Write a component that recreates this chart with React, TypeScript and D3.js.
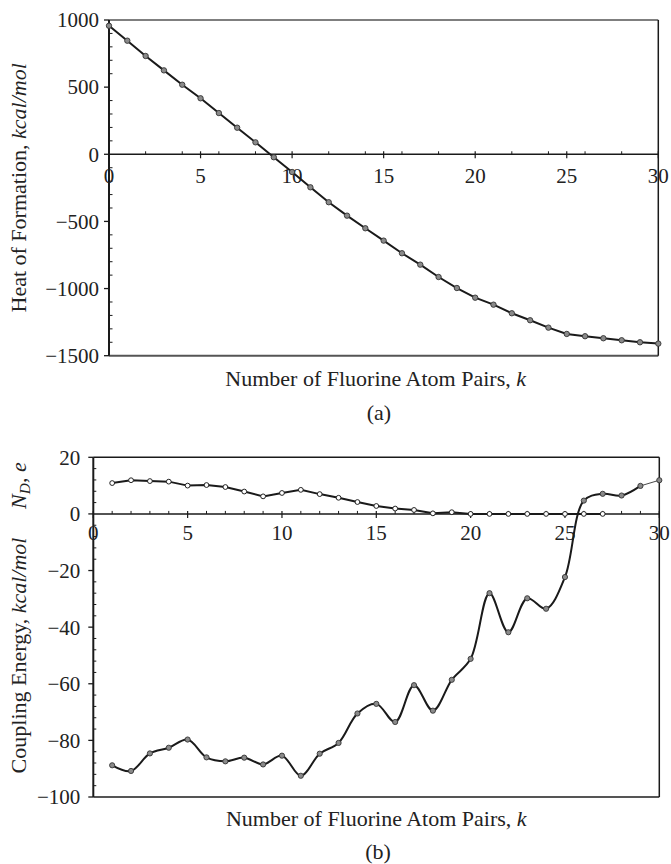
import React from "react";
import * as d3 from "d3";

const kTop = d3.range(0, 31);
const heatOfFormation = [957, 846, 732, 625, 518, 417, 307, 198, 89, -22, -132, -246, -357, -457, -551, -643, -737, -822, -914, -996, -1068, -1120, -1184, -1236, -1291, -1338, -1355, -1370, -1385, -1400, -1410];

const kCoupling = d3.range(1, 31);
const couplingEnergy = [-88.8, -90.8, -84.6, -82.6, -79.7, -86.0, -87.4, -86.1, -88.5, -85.4, -92.5, -84.7, -80.9, -70.5, -67.1, -73.5, -60.5, -69.5, -58.6, -51.2, -28.0, -41.8, -29.8, -33.5, -22.3, 4.7, 7.1, 6.5, 9.9, 11.9];

const kND = d3.range(1, 28);
const ndValues = [10.9, 11.9, 11.6, 11.4, 10.0, 10.2, 9.5, 7.9, 6.2, 7.4, 8.5, 7.0, 5.7, 4.2, 2.8, 1.9, 1.4, 0.2, 0.6, 0, 0, 0, 0, 0, 0, 0, 0];

const topYTicks = [1000, 500, 0, -500, -1000, -1500];
const xTicks = [0, 5, 10, 15, 20, 25, 30];
const bottomYTicks = [20, 0, -20, -40, -60, -80, -100];

const FONT = "'Liberation Serif', 'Times New Roman', serif";
const FS = 21;
const FT = 22;
const fmt = d3.format("d");

export default function App() {
  const x1 = d3.scaleLinear().domain([0, 30]).range([109, 658.3]);
  const y1 = d3.scaleLinear().domain([-1500, 1000]).range([355.7, 20]);
  const x2 = d3.scaleLinear().domain([0, 30]).range([93.3, 659.3]);
  const y2 = d3.scaleLinear().domain([-100, 20]).range([797, 457.3]);

  const lineTop = d3.line<number>().x((_, i) => x1(kTop[i])).y((d) => y1(d));
  const ceIdxMain = d3.range(0, 29);
  const lineCE = d3
    .line<number>()
    .x((i) => x2(kCoupling[i]))
    .y((i) => y2(couplingEnergy[i]))
    .curve(d3.curveCatmullRom.alpha(0.5));
  const lineCETail = d3
    .line<number>()
    .x((i) => x2(kCoupling[i]))
    .y((i) => y2(couplingEnergy[i]));
  const lineND = d3.line<number>().x((_, i) => x2(kND[i])).y((d) => y2(d));

  const topMinorY = d3.range(-1500, 1001, 100).filter((v) => v % 500 !== 0);
  const topMinorX = d3.range(0, 31, 2).filter((v) => v % 5 !== 0);
  const botMinorY = d3.range(-100, 21, 4).filter((v) => v % 20 !== 0);
  const botMinorX = d3.range(0, 31, 1).filter((v) => v % 5 !== 0);

  const frame = "#555";
  const dark = "#1a1a1a";

  return (
    <svg width={671} height={864} style={{ position: "absolute", left: 0, top: 0, background: "#fff" }} fontFamily={FONT}>
      <g>
        <line x1={x1(0)} x2={x1(30)} y1={y1(1000)} y2={y1(1000)} stroke={frame} strokeWidth={1.6} />
        <line x1={x1(0)} x2={x1(30)} y1={y1(-1500)} y2={y1(-1500)} stroke={frame} strokeWidth={2} />
        <line x1={x1(30)} x2={x1(30)} y1={y1(1000)} y2={y1(-1500)} stroke={dark} strokeWidth={1.5} />
        <line x1={x1(0)} x2={x1(0)} y1={y1(1000)} y2={y1(-1500)} stroke={dark} strokeWidth={2} />
        {topYTicks.map((v) => (
          <g key={"ty" + v}>
            <line x1={x1(0) - 5} x2={x1(0)} y1={y1(v)} y2={y1(v)} stroke={dark} strokeWidth={1.3} />
            <text x={x1(0) - 10} y={y1(v)} dy="0.35em" textAnchor="end" fontSize={FS} fill="#222">
              {fmt(v)}
            </text>
          </g>
        ))}
        {topMinorY.map((v) => (
          <line key={"tmy" + v} x1={x1(0)} x2={x1(0) + 3.5} y1={y1(v)} y2={y1(v)} stroke={dark} strokeWidth={1} />
        ))}
        <line x1={x1(0)} x2={x1(30)} y1={y1(0)} y2={y1(0)} stroke={dark} strokeWidth={1.5} />
        {topMinorX.map((v) => (
          <line key={"tmx" + v} x1={x1(v)} x2={x1(v)} y1={y1(0) - 3} y2={y1(0)} stroke={dark} strokeWidth={1} />
        ))}
        {xTicks.map((v) => (
          <g key={"tx" + v}>
            <line x1={x1(v)} x2={x1(v)} y1={y1(0) - 3} y2={y1(0) + 4} stroke={dark} strokeWidth={1.2} />
            <text x={x1(v)} y={y1(0) + 29} textAnchor="middle" fontSize={FS} fill="#222">
              {v}
            </text>
          </g>
        ))}
        <path d={lineTop(heatOfFormation) || ""} fill="none" stroke={dark} strokeWidth={2} />
        {heatOfFormation.map((v, i) => (
          <circle key={"tp" + i} cx={x1(kTop[i])} cy={y1(v)} r={2.7} fill="#8a8a8a" stroke="#333" strokeWidth={0.9} />
        ))}
        <text transform={`translate(26,${(y1(1000) + y1(-1500)) / 2}) rotate(-90)`} textAnchor="middle" fontSize={FT} fill="#222">
          Heat of Formation, <tspan fontStyle="italic">kcal/mol</tspan>
        </text>
        <text x={(x1(0) + x1(30)) / 2 - 8} y={386} textAnchor="middle" fontSize={FT} fill="#222">
          Number of Fluorine Atom Pairs, <tspan fontStyle="italic">k</tspan>
        </text>
        <text x={379} y={420} textAnchor="middle" fontSize={FT} fill="#222">
          (a)
        </text>
      </g>

      <g>
        <line x1={x2(0)} x2={x2(30)} y1={y2(20)} y2={y2(20)} stroke={dark} strokeWidth={1.6} />
        <line x1={x2(0)} x2={x2(30)} y1={y2(-100)} y2={y2(-100)} stroke={frame} strokeWidth={2} />
        <line x1={x2(30)} x2={x2(30)} y1={y2(20)} y2={y2(-100)} stroke={dark} strokeWidth={1.5} />
        <line x1={x2(0)} x2={x2(0)} y1={y2(20)} y2={y2(-100)} stroke={dark} strokeWidth={2} />
        {bottomYTicks.map((v) => (
          <g key={"by" + v}>
            <line x1={x2(0) - 5} x2={x2(0)} y1={y2(v)} y2={y2(v)} stroke={dark} strokeWidth={1.3} />
            <text x={x2(0) - 13} y={y2(v)} dy="0.35em" textAnchor="end" fontSize={FS} fill="#222">
              {fmt(v)}
            </text>
          </g>
        ))}
        {botMinorY.map((v) => (
          <line key={"bmy" + v} x1={x2(0)} x2={x2(0) + 3} y1={y2(v)} y2={y2(v)} stroke={dark} strokeWidth={1} />
        ))}
        <line x1={x2(0)} x2={x2(30)} y1={y2(0)} y2={y2(0)} stroke={dark} strokeWidth={1.5} />
        {botMinorX.map((v) => (
          <line key={"bmx" + v} x1={x2(v)} x2={x2(v)} y1={y2(0) - 3} y2={y2(0)} stroke={dark} strokeWidth={1} />
        ))}
        {xTicks.map((v) => (
          <g key={"bx" + v}>
            <line x1={x2(v)} x2={x2(v)} y1={y2(0) - 3} y2={y2(0) + 4} stroke={dark} strokeWidth={1.2} />
            <text x={x2(v)} y={y2(0) + 26} textAnchor="middle" fontSize={FS} fill="#222">
              {v}
            </text>
          </g>
        ))}
        <path d={lineND(ndValues) || ""} fill="none" stroke={dark} strokeWidth={2} />
        {ndValues.map((v, i) => (
          <circle key={"nd" + i} cx={x2(kND[i])} cy={y2(v)} r={2.4} fill="#fff" stroke="#222" strokeWidth={1} />
        ))}
        <path d={lineCE(ceIdxMain) || ""} fill="none" stroke={dark} strokeWidth={2} />
        <path d={lineCETail([28, 29]) || ""} fill="none" stroke="#333" strokeWidth={0.9} />
        {couplingEnergy.map((v, i) => (
          <circle key={"ce" + i} cx={x2(kCoupling[i])} cy={y2(v)} r={2.6} fill="#8a8a8a" stroke="#333" strokeWidth={0.9} />
        ))}
        <text transform={`translate(26,${(y2(20) + y2(0)) / 2}) rotate(-90)`} textAnchor="middle" fontSize={FT} fill="#222">
          <tspan fontStyle="italic">N</tspan>
          <tspan fontStyle="italic" fontSize={FT * 0.7} dy={4}>D</tspan>
          <tspan dy={-4}>, </tspan>
          <tspan fontStyle="italic">e</tspan>
        </text>
        <text transform={`translate(26,${(y2(0) + y2(-100)) / 2}) rotate(-90)`} textAnchor="middle" fontSize={FT} fill="#222">
          Coupling Energy, <tspan fontStyle="italic">kcal/mol</tspan>
        </text>
        <text x={(x2(0) + x2(30)) / 2} y={826} textAnchor="middle" fontSize={FT} fill="#222">
          Number of Fluorine Atom Pairs, <tspan fontStyle="italic">k</tspan>
        </text>
        <text x={378} y={859} textAnchor="middle" fontSize={FT} fill="#222">
          (b)
        </text>
      </g>
    </svg>
  );
}
